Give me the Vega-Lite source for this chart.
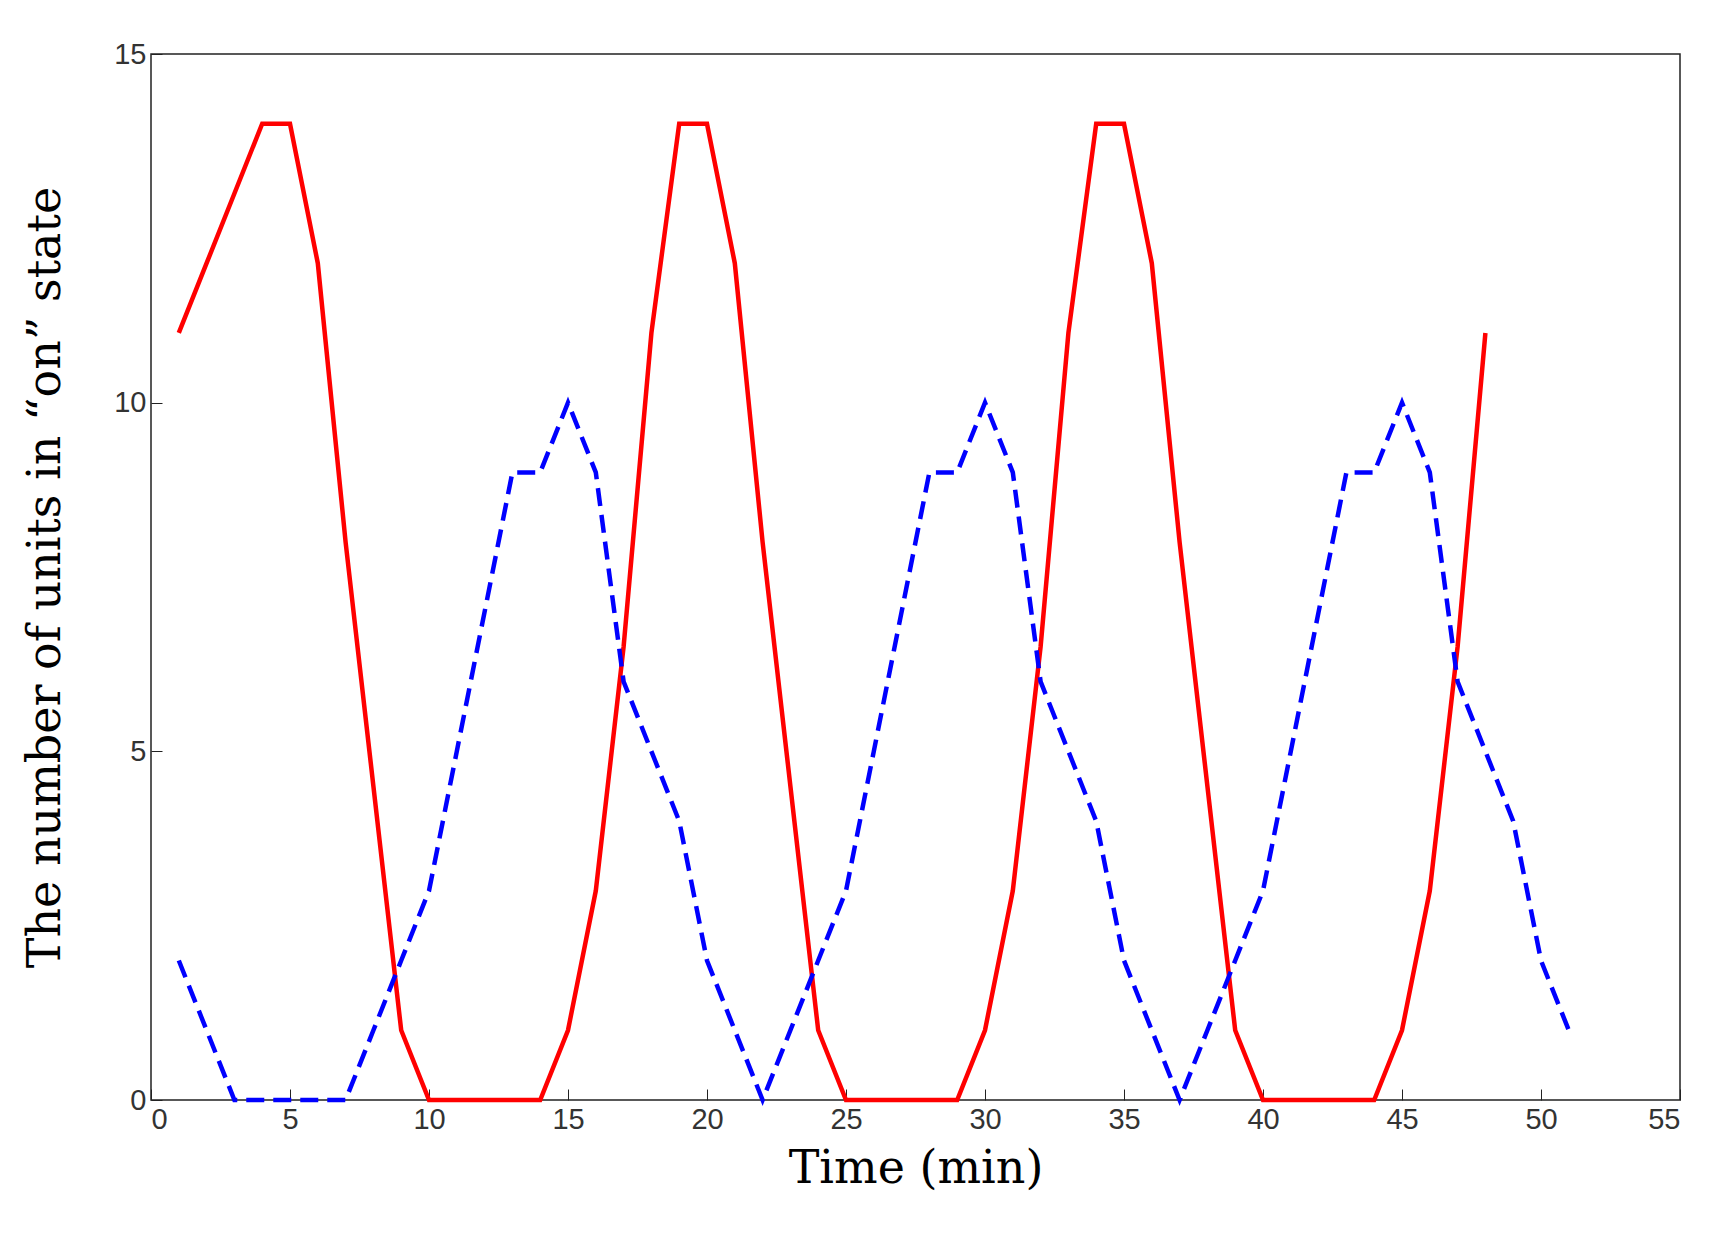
{
  "$schema": "https://vega.github.io/schema/vega-lite/v6.json",
  "width": 1529,
  "height": 1046,
  "padding": {"left": 22, "top": 40, "right": 10, "bottom": 10},
  "background": "white",
  "config": {
    "view": {"stroke": "#222", "strokeWidth": 1.5},
    "axis": {
      "grid": false, "domain": false, "tickColor": "#222", "tickSize": -11, "format": "d",
      "labelFont": "Liberation Sans", "labelFontSize": 29, "labelColor": "#333",
      "titleFont": "DejaVu Serif", "titleFontSize": 46, "titleFontWeight": "normal", "titleColor": "black"
    }
  },
  "data": {"values": [
    {"t":1,"red":11,"blue":2},{"t":2,"red":12,"blue":1},{"t":3,"red":13,"blue":0},{"t":4,"red":14,"blue":0},
    {"t":5,"red":14,"blue":0},{"t":6,"red":12,"blue":0},{"t":7,"red":8,"blue":0},{"t":8,"red":4.5,"blue":1},
    {"t":9,"red":1,"blue":2},{"t":10,"red":0,"blue":3},{"t":11,"red":0,"blue":5},{"t":12,"red":0,"blue":7},
    {"t":13,"red":0,"blue":9},{"t":14,"red":0,"blue":9},{"t":15,"red":1,"blue":10},{"t":16,"red":3,"blue":9},
    {"t":17,"red":6.5,"blue":6},{"t":18,"red":11,"blue":5},{"t":19,"red":14,"blue":4},{"t":20,"red":14,"blue":2},
    {"t":21,"red":12,"blue":1},{"t":22,"red":8,"blue":0},{"t":23,"red":4.5,"blue":1},{"t":24,"red":1,"blue":2},
    {"t":25,"red":0,"blue":3},{"t":26,"red":0,"blue":5},{"t":27,"red":0,"blue":7},{"t":28,"red":0,"blue":9},
    {"t":29,"red":0,"blue":9},{"t":30,"red":1,"blue":10},{"t":31,"red":3,"blue":9},{"t":32,"red":6.5,"blue":6},
    {"t":33,"red":11,"blue":5},{"t":34,"red":14,"blue":4},{"t":35,"red":14,"blue":2},{"t":36,"red":12,"blue":1},
    {"t":37,"red":8,"blue":0},{"t":38,"red":4.5,"blue":1},{"t":39,"red":1,"blue":2},{"t":40,"red":0,"blue":3},
    {"t":41,"red":0,"blue":5},{"t":42,"red":0,"blue":7},{"t":43,"red":0,"blue":9},{"t":44,"red":0,"blue":9},
    {"t":45,"red":1,"blue":10},{"t":46,"red":3,"blue":9},{"t":47,"red":6.5,"blue":6},{"t":48,"red":11,"blue":5},
    {"t":49,"blue":4},{"t":50,"blue":2},{"t":51,"blue":1}
  ]},
  "encoding": {
    "x": {"field": "t", "type": "quantitative", "title": "Time (min)",
      "scale": {"domain": [0, 55], "nice": false},
      "axis": {"values": [0,5,10,15,20,25,30,35,40,45,50,55], "labelPadding": 16, "titlePadding": 12}}
  },
  "layer": [
    {
      "transform": [{"filter": "isValid(datum.red)"}],
      "mark": {"type": "line", "color": "#ff0000", "strokeWidth": 4.5},
      "encoding": {"y": {"field": "red", "type": "quantitative", "title": "The number of units in  \u201con\u201d  state",
        "scale": {"domain": [0, 15], "nice": false},
        "axis": {"values": [0,5,10,15], "labelPadding": 16, "titlePadding": 44}}}
    },
    {
      "mark": {"type": "line", "color": "#0000ff", "strokeWidth": 4.5, "strokeDash": [18, 9]},
      "encoding": {"y": {"field": "blue", "type": "quantitative"}}
    }
  ]
}
